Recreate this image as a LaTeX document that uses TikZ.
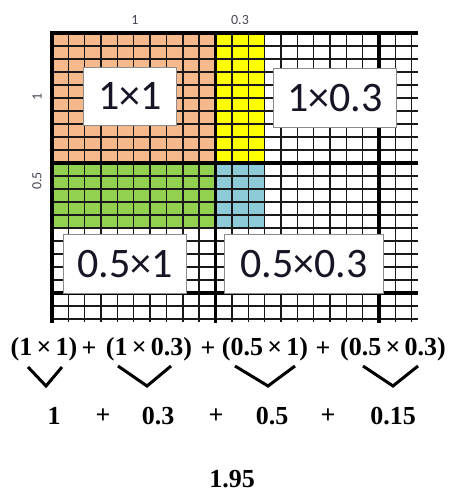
\documentclass[tikz,border=0pt]{standalone}
\usepackage{fontspec}
\setmainfont{Liberation Serif}
\newfontfamily\calib{Carlito}
\definecolor{peach}{HTML}{F6B98B}
\definecolor{yel}{HTML}{FFFF00}
\definecolor{grn}{HTML}{92D050}
\definecolor{aqua}{HTML}{8DCBD9}
\definecolor{axisgray}{HTML}{454555}
\definecolor{labink}{HTML}{151525}
\begin{document}
\begin{tikzpicture}[x=1pt,y=-1pt,
  thinline/.style={line width=1.4pt,black!90},
  thickline/.style={line width=3.8pt,black},
  labelbox/.style={draw=black!45,line width=0.9pt,fill=white,inner sep=0pt,
     font=\calib\fontsize{42}{42}\selectfont,text=labink,anchor=north west},
  axislab/.style={font=\calib\fontsize{14}{14}\selectfont,text=axisgray,inner sep=0pt},
  eqterm/.style={font=\bfseries\fontsize{26}{26}\selectfont,inner sep=0pt},
  vmark/.style={line width=3pt,black}]
\useasboundingbox (0,0) rectangle (454,493);
% coloured regions
\fill[peach] (52,33) rectangle (215.5,163);
\fill[yel] (215.5,33) rectangle (264.55,163);
\fill[grn] (52,163) rectangle (215.5,228);
\fill[aqua] (215.5,163) rectangle (264.55,228);
% thin grid
\foreach \i in {0,...,22} \draw[thinline] (52+\i*16.35,33) -- (52+\i*16.35,322);
\foreach \j in {0,...,22} \draw[thinline] (52,33+\j*13) -- (418,33+\j*13);
% thick lines
\foreach \x in {52,215.5,379} \draw[thickline] (\x,31) -- (\x,323);
\foreach \y in {33,163,293} \draw[thickline] (50,\y) -- (418,\y);
% axis labels
\node[axislab] (ax1) at (135,20) {1};
\node[axislab] (ax03) at (240,20) {0.3};
\node[axislab,rotate=90] (ay1) at (37,97) {1};
\node[axislab,rotate=90] (ay05) at (37,181) {0.5};
% label boxes
\node[labelbox,minimum width=93pt,minimum height=58pt] (b11) at (83,67) {1×1};
\node[labelbox,minimum width=123pt,minimum height=59pt] (b103) at (273,68) {1×0.3};
\node[labelbox,minimum width=123pt,minimum height=59pt] (b051) at (63,234) {0.5×1};
\node[labelbox,minimum width=159pt,minimum height=59pt] (b0503) at (224,234) {0.5×0.3};
% equation
\node[eqterm] (t1) at (44,349) {(1\,×\,1)};
\node[eqterm] (p1) at (89,349) {+};
\node[eqterm] (t2) at (149,349) {(1\,×\,0.3)};
\node[eqterm] (p2) at (208,349) {+};
\node[eqterm] (t3) at (265,349) {(0.5\,×\,1)};
\node[eqterm] (p3) at (323,349) {+};
\node[eqterm] (t4) at (393,349) {(0.5\,×\,0.3)};
% V marks
\coordinate (v1a) at (28,367); \coordinate (v1b) at (46,386); \coordinate (v1c) at (62,367);
\coordinate (v2a) at (118,366); \coordinate (v2b) at (147,386); \coordinate (v2c) at (171,366);
\coordinate (v3a) at (235,366); \coordinate (v3b) at (268,386); \coordinate (v3c) at (295,366);
\coordinate (v4a) at (363,366); \coordinate (v4b) at (393,386); \coordinate (v4c) at (418,366);
\draw[vmark] (v1a) -- (v1b) -- (v1c);
\draw[vmark] (v2a) -- (v2b) -- (v2c);
\draw[vmark] (v3a) -- (v3b) -- (v3c);
\draw[vmark] (v4a) -- (v4b) -- (v4c);
% results
\node[eqterm] (r1) at (54,416) {1};
\node[eqterm] (q1) at (103,416) {+};
\node[eqterm] (r2) at (158,416) {0.3};
\node[eqterm] (q2) at (216,416) {+};
\node[eqterm] (r3) at (272,416) {0.5};
\node[eqterm] (q3) at (328,416) {+};
\node[eqterm] (r4) at (393,416) {0.15};
\node[eqterm] (sum) at (232,479) {1.95};
\end{tikzpicture}
\end{document}
